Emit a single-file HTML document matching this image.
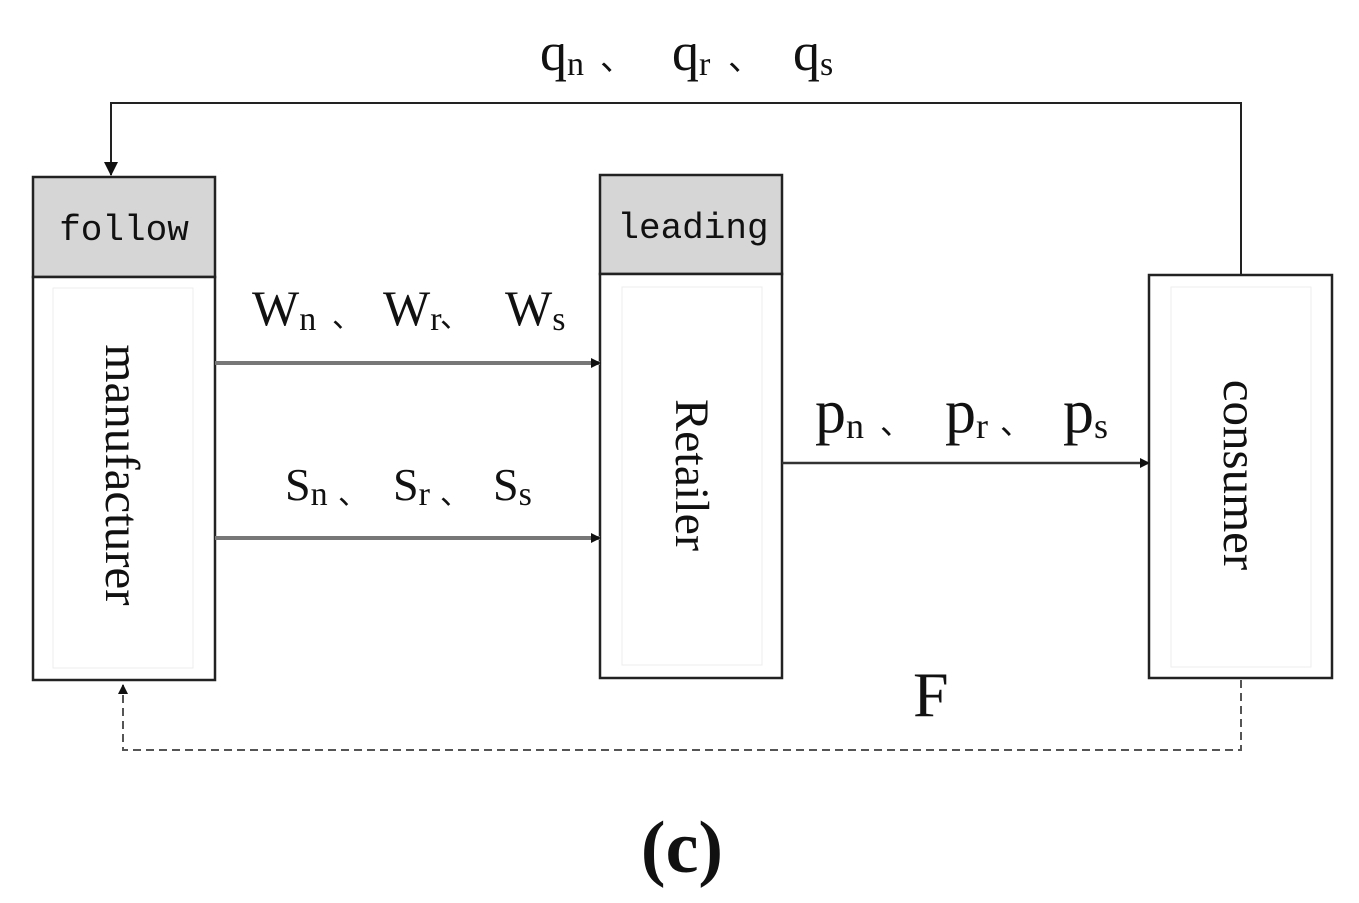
<!DOCTYPE html>
<html><head><meta charset="utf-8"><style>
html,body{margin:0;padding:0;background:#fff;}
svg{display:block}
.s{font-family:"Liberation Serif",serif;fill:#111}
.m{font-family:"Liberation Mono",monospace;fill:#111}
</style></head><body>
<svg width="1359" height="903" viewBox="0 0 1359 903" xmlns="http://www.w3.org/2000/svg">
<defs>
<marker id="a" markerWidth="10" markerHeight="10" refX="9" refY="5" orient="auto" markerUnits="userSpaceOnUse"><path d="M0,0 L10,5 L0,10 z" fill="#111"/></marker>
<marker id="b" markerWidth="14" markerHeight="14" refX="13" refY="7" orient="auto" markerUnits="userSpaceOnUse"><path d="M0,0 L14,7 L0,14 z" fill="#111"/></marker>
</defs>
<rect x="33" y="177" width="182" height="100" fill="#d6d6d6" stroke="#222" stroke-width="2.5"/>
<rect x="33" y="277" width="182" height="403" fill="#fff" stroke="#222" stroke-width="2.5"/>
<rect x="53" y="288" width="140" height="380" fill="none" stroke="#eee" stroke-width="1"/>
<text class="m" x="124" y="240" font-size="36" text-anchor="middle">follow</text>
<text class="s" font-size="49" text-anchor="middle" transform="translate(106,475) rotate(90)">manufacturer</text>
<rect x="600" y="175" width="182" height="99" fill="#d6d6d6" stroke="#222" stroke-width="2.5"/>
<rect x="600" y="274" width="182" height="404" fill="#fff" stroke="#222" stroke-width="2.5"/>
<rect x="622" y="287" width="140" height="378" fill="none" stroke="#eee" stroke-width="1"/>
<text class="m" x="693" y="238" font-size="36" text-anchor="middle">leading</text>
<text class="s" font-size="48" text-anchor="middle" transform="translate(676,475) rotate(90)">Retailer</text>
<rect x="1149" y="275" width="183" height="403" fill="#fff" stroke="#222" stroke-width="2.5"/>
<rect x="1171" y="287" width="140" height="380" fill="none" stroke="#eee" stroke-width="1"/>
<text class="s" font-size="49" text-anchor="middle" transform="translate(1224,475) rotate(90)">consumer</text>
<polyline points="1241,275 1241,103 111,103 111,175" fill="none" stroke="#222" stroke-width="2" marker-end="url(#b)"/>
<line x1="215" y1="363" x2="600" y2="363" stroke="#777" stroke-width="4" marker-end="url(#a)"/>
<line x1="215" y1="538" x2="600" y2="538" stroke="#777" stroke-width="4" marker-end="url(#a)"/>
<line x1="782" y1="463" x2="1149" y2="463" stroke="#333" stroke-width="2.5" marker-end="url(#a)"/>
<polyline points="1241,680 1241,750 123,750 123,685" fill="none" stroke="#555" stroke-width="2" stroke-dasharray="8,5" marker-end="url(#a)"/>
<g class="s">
<text x="540" y="70" font-size="54">q<tspan font-size="34" dy="5">n</tspan></text><text x="600" y="70" font-size="34">、</text>
<text x="672" y="70" font-size="54">q<tspan font-size="34" dy="5">r</tspan></text><text x="728" y="70" font-size="34">、</text>
<text x="793" y="70" font-size="54">q<tspan font-size="34" dy="5">s</tspan></text>

<text x="252" y="325" font-size="50">W<tspan font-size="34" dy="5">n</tspan></text><text x="332" y="327" font-size="30">、</text>
<text x="383" y="325" font-size="50">W<tspan font-size="34" dy="5">r</tspan></text><text x="440" y="327" font-size="30">、</text>
<text x="505" y="325" font-size="50">W<tspan font-size="34" dy="5">s</tspan></text>

<text x="285" y="500" font-size="46">S<tspan font-size="34" dy="5">n</tspan></text><text x="338" y="504" font-size="30">、</text>
<text x="393" y="500" font-size="46">S<tspan font-size="34" dy="5">r</tspan></text><text x="440" y="504" font-size="30">、</text>
<text x="493" y="500" font-size="46">S<tspan font-size="34" dy="5">s</tspan></text>

<text x="815" y="432" font-size="62">p<tspan font-size="36" dy="6">n</tspan></text><text x="880" y="434" font-size="32">、</text>
<text x="945" y="432" font-size="62">p<tspan font-size="36" dy="6">r</tspan></text><text x="1000" y="434" font-size="32">、</text>
<text x="1063" y="432" font-size="62">p<tspan font-size="36" dy="6">s</tspan></text>
</g>
<text class="s" x="913" y="716" font-size="64">F</text>
<text class="s" x="682" y="872" font-size="74" font-weight="bold" text-anchor="middle">(c)</text>
</svg>
</body></html>
